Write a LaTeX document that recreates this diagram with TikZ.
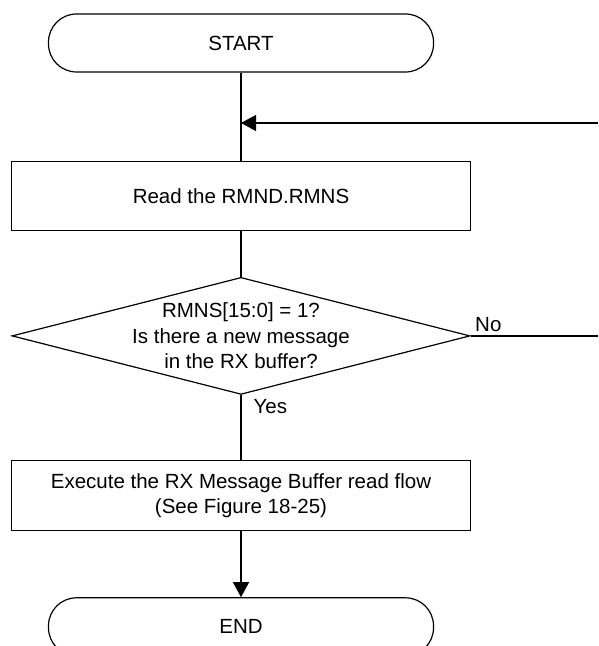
\documentclass[tikz,border=0pt]{standalone}
\usepackage{fontspec}
\setmainfont{Liberation Sans}
\usetikzlibrary{shapes.geometric,arrows.meta,positioning}
\definecolor{ink}{HTML}{000000}

\begin{document}
\begin{tikzpicture}[
  node distance=6mm, line width=0.6pt, draw=ink,
  font=\fontsize{10.25pt}{12.8pt}\selectfont,
  term/.style={draw=ink, rounded corners=14pt, minimum width=192.5pt,
               minimum height=29pt, inner sep=0pt},
  box/.style={draw=ink, minimum width=229.5pt, minimum height=34.5pt,
              inner sep=0pt, align=center},
  decide/.style={draw=ink, diamond, minimum width=229pt, minimum height=58.5pt,
                 inner sep=0pt},
  arr/.style={-{Triangle[length=7.5pt,width=8pt]}, draw=ink}
]
\useasboundingbox (0,0) rectangle (299pt,-323pt);
\node[term] (start) at (120.5pt,-21.5pt) {START};
\node[box, below=44pt of start] (read) {Read the RMND.RMNS};
\node[decide, below=23pt of read,
  label={[align=center]center:RMNS[15:0] = 1?\\Is there a new message\\in the RX buffer?}] (chk) {};
\node[box, minimum height=35pt, below=32.5pt of chk] (exec) {Execute the RX Message Buffer read flow\\
  (See Figure 18-25)};
\node[term, below=33pt of exec] (end) {END};
\coordinate (back) at (299pt,-61.5pt);
\coordinate (noend) at (back |- chk.east);
\draw (start) -- (read); \draw[arr] (back) -- (back -| start);
\draw (read) -- (chk);
\draw (chk.east) node[above right, inner sep=2pt] {No} -- (noend);
\draw (chk) -- node[pos=0, below right, inner xsep=6pt, inner ysep=2pt] {Yes} (exec);
\draw[arr] (exec) -- (end);
\end{tikzpicture}
\end{document}
